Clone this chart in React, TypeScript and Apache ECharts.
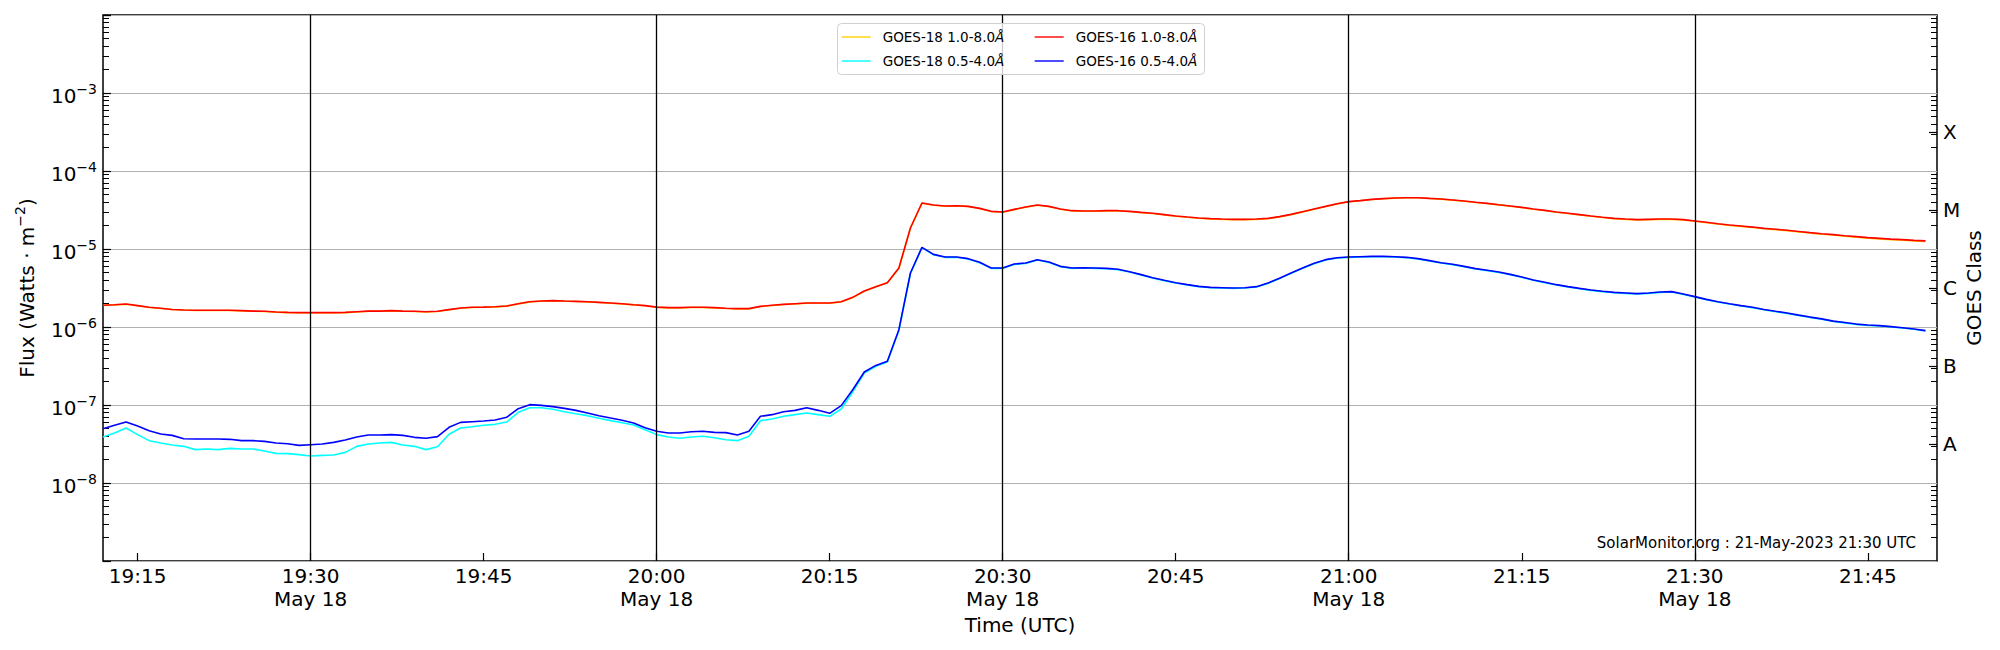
import React, { useEffect, useRef } from "react";
import * as echarts from "echarts";

// ---- data (1-minute cadence, first sample at startTime) ----
const startTime = "19:12";
const xMinTime = "19:12";
const xMaxTime = "21:51";

const goes16Long = [
  1.90e-6, 1.93e-6, 1.97e-6, 1.88e-6, 1.79e-6, 1.74e-6, 1.68e-6, 1.65e-6, 1.64e-6, 1.64e-6,
  1.64e-6, 1.64e-6, 1.62e-6, 1.60e-6, 1.59e-6, 1.56e-6, 1.54e-6, 1.53e-6, 1.53e-6, 1.53e-6,
  1.53e-6, 1.54e-6, 1.57e-6, 1.60e-6, 1.60e-6, 1.62e-6, 1.60e-6, 1.59e-6, 1.57e-6, 1.59e-6,
  1.67e-6, 1.75e-6, 1.79e-6, 1.80e-6, 1.82e-6, 1.86e-6, 1.99e-6, 2.11e-6, 2.15e-6, 2.18e-6,
  2.15e-6, 2.13e-6, 2.11e-6, 2.07e-6, 2.03e-6, 1.99e-6, 1.93e-6, 1.88e-6, 1.80e-6, 1.77e-6,
  1.77e-6, 1.79e-6, 1.79e-6, 1.77e-6, 1.74e-6, 1.72e-6, 1.72e-6, 1.84e-6, 1.90e-6, 1.95e-6,
  1.99e-6, 2.03e-6, 2.03e-6, 2.03e-6, 2.11e-6, 2.40e-6, 2.89e-6, 3.29e-6, 3.70e-6, 5.71e-6,
  1.86e-5, 3.89e-5, 3.66e-5, 3.56e-5, 3.59e-5, 3.52e-5, 3.32e-5, 3.04e-5, 2.98e-5, 3.22e-5,
  3.46e-5, 3.66e-5, 3.52e-5, 3.26e-5, 3.10e-5, 3.07e-5, 3.07e-5, 3.10e-5, 3.10e-5, 3.04e-5,
  2.95e-5, 2.87e-5, 2.76e-5, 2.65e-5, 2.57e-5, 2.50e-5, 2.45e-5, 2.42e-5, 2.40e-5, 2.40e-5,
  2.42e-5, 2.47e-5, 2.60e-5, 2.78e-5, 3.01e-5, 3.26e-5, 3.52e-5, 3.81e-5, 4.05e-5, 4.17e-5,
  4.33e-5, 4.42e-5, 4.51e-5, 4.55e-5, 4.55e-5, 4.46e-5, 4.38e-5, 4.25e-5, 4.12e-5, 3.97e-5,
  3.85e-5, 3.70e-5, 3.56e-5, 3.42e-5, 3.26e-5, 3.13e-5, 2.98e-5, 2.87e-5, 2.76e-5, 2.65e-5,
  2.55e-5, 2.47e-5, 2.42e-5, 2.38e-5, 2.40e-5, 2.42e-5, 2.42e-5, 2.38e-5, 2.29e-5, 2.20e-5,
  2.11e-5, 2.03e-5, 1.97e-5, 1.91e-5, 1.84e-5, 1.79e-5, 1.74e-5, 1.68e-5, 1.62e-5, 1.57e-5,
  1.53e-5, 1.48e-5, 1.44e-5, 1.40e-5, 1.37e-5, 1.34e-5, 1.32e-5, 1.29e-5, 1.27e-5,
];

const goes18Long = [
  1.89e-6, 1.92e-6, 1.96e-6, 1.87e-6, 1.78e-6, 1.73e-6, 1.68e-6, 1.65e-6, 1.63e-6, 1.63e-6,
  1.63e-6, 1.63e-6, 1.61e-6, 1.59e-6, 1.58e-6, 1.55e-6, 1.53e-6, 1.52e-6, 1.52e-6, 1.52e-6,
  1.52e-6, 1.53e-6, 1.56e-6, 1.59e-6, 1.59e-6, 1.61e-6, 1.59e-6, 1.58e-6, 1.56e-6, 1.58e-6,
  1.66e-6, 1.74e-6, 1.78e-6, 1.79e-6, 1.81e-6, 1.85e-6, 1.98e-6, 2.10e-6, 2.14e-6, 2.17e-6,
  2.14e-6, 2.12e-6, 2.10e-6, 2.06e-6, 2.02e-6, 1.98e-6, 1.92e-6, 1.87e-6, 1.79e-6, 1.76e-6,
  1.76e-6, 1.78e-6, 1.78e-6, 1.76e-6, 1.73e-6, 1.71e-6, 1.71e-6, 1.83e-6, 1.89e-6, 1.94e-6,
  1.98e-6, 2.02e-6, 2.02e-6, 2.02e-6, 2.10e-6, 2.38e-6, 2.87e-6, 3.27e-6, 3.68e-6, 5.68e-6,
  1.85e-5, 3.87e-5, 3.64e-5, 3.54e-5, 3.57e-5, 3.50e-5, 3.30e-5, 3.02e-5, 2.96e-5, 3.20e-5,
  3.44e-5, 3.64e-5, 3.50e-5, 3.24e-5, 3.08e-5, 3.05e-5, 3.05e-5, 3.08e-5, 3.08e-5, 3.02e-5,
  2.93e-5, 2.85e-5, 2.74e-5, 2.63e-5, 2.55e-5, 2.48e-5, 2.43e-5, 2.40e-5, 2.38e-5, 2.38e-5,
  2.40e-5, 2.45e-5, 2.58e-5, 2.76e-5, 2.99e-5, 3.24e-5, 3.50e-5, 3.79e-5, 4.03e-5, 4.15e-5,
  4.31e-5, 4.40e-5, 4.49e-5, 4.53e-5, 4.53e-5, 4.44e-5, 4.36e-5, 4.23e-5, 4.10e-5, 3.95e-5,
  3.83e-5, 3.68e-5, 3.54e-5, 3.40e-5, 3.24e-5, 3.11e-5, 2.96e-5, 2.85e-5, 2.74e-5, 2.63e-5,
  2.53e-5, 2.45e-5, 2.40e-5, 2.36e-5, 2.38e-5, 2.40e-5, 2.40e-5, 2.36e-5, 2.27e-5, 2.18e-5,
  2.09e-5, 2.01e-5, 1.95e-5, 1.89e-5, 1.82e-5, 1.77e-5, 1.72e-5, 1.66e-5, 1.60e-5, 1.55e-5,
  1.51e-5, 1.46e-5, 1.42e-5, 1.38e-5, 1.35e-5, 1.32e-5, 1.30e-5, 1.27e-5, 1.25e-5,
];

const goes16Short = [
  4.97e-8, 5.49e-8, 6.05e-8, 5.38e-8, 4.69e-8, 4.25e-8, 4.08e-8, 3.70e-8, 3.66e-8, 3.66e-8,
  3.66e-8, 3.63e-8, 3.49e-8, 3.49e-8, 3.42e-8, 3.26e-8, 3.19e-8, 3.04e-8, 3.10e-8, 3.16e-8,
  3.32e-8, 3.56e-8, 3.89e-8, 4.12e-8, 4.12e-8, 4.17e-8, 4.08e-8, 3.85e-8, 3.74e-8, 3.93e-8,
  5.17e-8, 5.99e-8, 6.11e-8, 6.23e-8, 6.42e-8, 6.95e-8, 8.97e-8, 1.01e-7, 9.90e-8, 9.52e-8,
  9.06e-8, 8.54e-8, 7.90e-8, 7.30e-8, 6.81e-8, 6.36e-8, 5.88e-8, 5.12e-8, 4.60e-8, 4.38e-8,
  4.38e-8, 4.55e-8, 4.60e-8, 4.46e-8, 4.42e-8, 4.12e-8, 4.60e-8, 7.16e-8, 7.52e-8, 8.21e-8,
  8.54e-8, 9.24e-8, 8.54e-8, 7.82e-8, 9.81e-8, 1.57e-7, 2.65e-7, 3.22e-7, 3.63e-7, 9.24e-7,
  4.92e-6, 1.05e-5, 8.54e-6, 7.90e-6, 7.90e-6, 7.52e-6, 6.75e-6, 5.71e-6, 5.71e-6, 6.42e-6,
  6.61e-6, 7.30e-6, 6.81e-6, 5.99e-6, 5.71e-6, 5.76e-6, 5.71e-6, 5.65e-6, 5.49e-6, 5.12e-6,
  4.69e-6, 4.29e-6, 3.97e-6, 3.70e-6, 3.49e-6, 3.32e-6, 3.22e-6, 3.19e-6, 3.16e-6, 3.19e-6,
  3.29e-6, 3.66e-6, 4.21e-6, 4.92e-6, 5.71e-6, 6.55e-6, 7.30e-6, 7.74e-6, 7.90e-6, 7.97e-6,
  8.05e-6, 8.05e-6, 7.97e-6, 7.82e-6, 7.52e-6, 7.09e-6, 6.68e-6, 6.36e-6, 5.99e-6, 5.60e-6,
  5.33e-6, 5.07e-6, 4.73e-6, 4.38e-6, 4.01e-6, 3.74e-6, 3.49e-6, 3.29e-6, 3.13e-6, 2.98e-6,
  2.87e-6, 2.78e-6, 2.73e-6, 2.68e-6, 2.73e-6, 2.81e-6, 2.84e-6, 2.65e-6, 2.45e-6, 2.26e-6,
  2.11e-6, 1.99e-6, 1.88e-6, 1.79e-6, 1.68e-6, 1.59e-6, 1.51e-6, 1.42e-6, 1.34e-6, 1.27e-6,
  1.19e-6, 1.14e-6, 1.09e-6, 1.06e-6, 1.04e-6, 1.01e-6, 9.80e-7, 9.43e-7, 8.98e-7,
];

const goes18Short = [
  3.89e-8, 4.38e-8, 5.07e-8, 4.17e-8, 3.49e-8, 3.26e-8, 3.07e-8, 2.95e-8, 2.68e-8, 2.73e-8,
  2.68e-8, 2.78e-8, 2.73e-8, 2.73e-8, 2.57e-8, 2.40e-8, 2.38e-8, 2.31e-8, 2.22e-8, 2.26e-8,
  2.29e-8, 2.47e-8, 2.95e-8, 3.16e-8, 3.26e-8, 3.32e-8, 3.07e-8, 2.95e-8, 2.68e-8, 2.92e-8,
  4.21e-8, 5.07e-8, 5.27e-8, 5.49e-8, 5.65e-8, 6.05e-8, 8.05e-8, 9.24e-8, 9.24e-8, 8.80e-8,
  8.21e-8, 7.74e-8, 7.30e-8, 6.75e-8, 6.30e-8, 5.93e-8, 5.54e-8, 4.83e-8, 4.17e-8, 3.89e-8,
  3.74e-8, 3.89e-8, 3.97e-8, 3.81e-8, 3.59e-8, 3.49e-8, 3.97e-8, 6.30e-8, 6.61e-8, 7.16e-8,
  7.52e-8, 7.90e-8, 7.52e-8, 7.16e-8, 8.89e-8, 1.47e-7, 2.57e-7, 3.13e-7, 3.56e-7, 9.00e-7,
  4.85e-6, 1.04e-5, 8.45e-6, 7.82e-6, 7.82e-6, 7.44e-6, 6.68e-6, 5.65e-6, 5.65e-6, 6.35e-6,
  6.54e-6, 7.22e-6, 6.74e-6, 5.93e-6, 5.65e-6, 5.70e-6, 5.65e-6, 5.59e-6, 5.43e-6, 5.07e-6,
  4.64e-6, 4.25e-6, 3.93e-6, 3.66e-6, 3.45e-6, 3.29e-6, 3.19e-6, 3.16e-6, 3.13e-6, 3.16e-6,
  3.26e-6, 3.62e-6, 4.17e-6, 4.87e-6, 5.65e-6, 6.48e-6, 7.22e-6, 7.66e-6, 7.82e-6, 7.89e-6,
  7.97e-6, 7.97e-6, 7.89e-6, 7.74e-6, 7.44e-6, 7.02e-6, 6.61e-6, 6.30e-6, 5.93e-6, 5.54e-6,
  5.28e-6, 5.02e-6, 4.68e-6, 4.34e-6, 3.97e-6, 3.70e-6, 3.45e-6, 3.26e-6, 3.10e-6, 2.95e-6,
  2.84e-6, 2.75e-6, 2.70e-6, 2.65e-6, 2.70e-6, 2.78e-6, 2.81e-6, 2.62e-6, 2.43e-6, 2.24e-6,
  2.09e-6, 1.97e-6, 1.86e-6, 1.77e-6, 1.66e-6, 1.57e-6, 1.49e-6, 1.41e-6, 1.33e-6, 1.26e-6,
  1.18e-6, 1.13e-6, 1.08e-6, 1.05e-6, 1.03e-6, 1.00e-6, 9.70e-7, 9.34e-7, 8.89e-7,
];

const xTickLabels = ["19:15", "19:30", "19:45", "20:00", "20:15", "20:30", "20:45", "21:00", "21:15", "21:30", "21:45"];
const halfHourLines = ["19:30", "20:00", "20:30", "21:00", "21:30"];
const dateLabel = "May 18";

const yMin = 1e-9;
const yMax = 1e-2;
const yLabelExps = [-8, -7, -6, -5, -4, -3];

const goesClasses = ["A", "B", "C", "M", "X"];
const goesClassExps = [-7.5, -6.5, -5.5, -4.5, -3.5];

const watermark = "SolarMonitor.org : 21-May-2023 21:30 UTC";

const FONT = "DejaVu Sans";

function toMin(s: string) {
  const [h, m] = s.split(":").map(Number);
  return h * 60 + m;
}
function fmtMin(v: number) {
  const h = Math.floor(v / 60);
  const m = Math.round(v - h * 60);
  return `${h}:${String(m).padStart(2, "0")}`;
}

export default function App() {
  const ref = useRef<HTMLDivElement>(null);
  useEffect(() => {
    if (!ref.current) return;
    const chart = echarts.init(ref.current, null, { renderer: "svg" });
    const t0 = toMin(startTime);
    const pair = (arr: number[]) => arr.map((v, i) => [t0 + i, v]);
    const xTicks = xTickLabels.map(toMin);
    const halfMins = halfHourLines.map(toMin);

    const minorExps: number[] = [];
    for (let n = Math.log10(yMin); n < Math.log10(yMax); n++) {
      for (let k = 2; k <= 9; k++) minorExps.push(n + Math.log10(k));
    }

    const tickColor = "#000";
    const minorAxis = (pos: "left" | "right") => ({
      type: "value",
      min: Math.log10(yMin),
      max: Math.log10(yMax),
      position: pos,
      axisLine: { show: false },
      splitLine: { show: false },
      axisLabel: { show: false },
      axisTick: {
        show: true,
        inside: true,
        length: 6,
        customValues: minorExps,
        lineStyle: { color: tickColor, width: 1 },
      },
    });

    const lineSeries = (name: string, arr: number[], color: string, extra: any = {}) => ({
      name,
      type: "line",
      data: pair(arr),
      symbol: "none",
      showSymbol: false,
      lineStyle: { color, width: 1.6 },
      itemStyle: { color },
      xAxisIndex: 0,
      yAxisIndex: 0,
      ...extra,
    });

    const legendBase = {
      orient: "vertical",
      top: 30,
      itemWidth: 29,
      itemHeight: 14,
      itemGap: 10,
      padding: 0,
      z: 60,
      itemStyle: { opacity: 0 },
      lineStyle: { width: 1.4 },
      formatter: (name: string) => `${name}{i|Å}`,
      textStyle: {
        fontFamily: FONT,
        fontSize: 13.5,
        color: "#000",
        padding: [0, 0, 0, 7],
        rich: { i: { fontFamily: FONT, fontSize: 13.5, fontStyle: "italic", color: "#000" } },
      },
    };

    const option: any = {
      animation: false,
      backgroundColor: "#fff",
      textStyle: { fontFamily: FONT },
      grid: {
        left: 103,
        right: 63,
        top: 15,
        bottom: 89,
        show: true,
        borderColor: "#000",
        borderWidth: 1.5,
        backgroundColor: "transparent",
        containLabel: false,
      },
      legend: [
        { ...legendBase, left: 841, data: ["GOES-18 1.0-8.0", "GOES-18 0.5-4.0"] },
        { ...legendBase, left: 1034, data: ["GOES-16 1.0-8.0", "GOES-16 0.5-4.0"] },
      ],
      graphic: [
        {
          type: "rect",
          left: 837,
          top: 23,
          z: 50,
          shape: { width: 367, height: 51, r: 4 },
          style: { fill: "rgba(255,255,255,0.8)", stroke: "#d0d0d0", lineWidth: 1 },
        },
        {
          type: "text",
          right: 84,
          top: 535,
          z: 50,
          style: { text: watermark, fontFamily: FONT, fontSize: 15, fill: "#000" },
        },
      ],
      xAxis: {
        type: "value",
        min: toMin(xMinTime),
        max: toMin(xMaxTime),
        axisLine: { show: false },
        splitLine: { show: false },
        axisTick: {
          show: true,
          inside: true,
          length: 8,
          customValues: xTicks,
          lineStyle: { color: tickColor, width: 1.2 },
        },
        axisLabel: {
          customValues: xTicks,
          formatter: (v: number) => {
            const s = fmtMin(v);
            return halfHourLines.includes(s) ? `${s}\n${dateLabel}` : s;
          },
          fontFamily: FONT,
          fontSize: 20,
          lineHeight: 23,
          color: "#000",
          margin: 3,
        },
        name: "Time (UTC)",
        nameLocation: "middle",
        nameGap: 54,
        nameTextStyle: { fontFamily: FONT, fontSize: 20, color: "#000" },
      },
      yAxis: [
        {
          type: "log",
          logBase: 10,
          min: yMin,
          max: yMax,
          interval: 1,
          position: "left",
          axisLine: { show: false },
          splitLine: { show: true, lineStyle: { color: "#b0b0b0", width: 1.2 } },
          axisTick: { show: true, inside: true, length: 8, lineStyle: { color: tickColor, width: 1.2 } },
          axisLabel: {
            formatter: (v: number) => {
              const e = Math.round(Math.log10(v));
              if (!yLabelExps.includes(e)) return "";
              return `{m|10}{s|−${-e}}`;
            },
            margin: 6,
            color: "#000",
            rich: {
              m: { fontFamily: FONT, fontSize: 20, color: "#000", padding: [5, 0, 0, 0] },
              s: { fontFamily: FONT, fontSize: 14, color: "#000", padding: [0, 0, 8, 0] },
            },
          },
          name: "{n|Flux (Watts · m}{s|−2}{n|)}",
          nameLocation: "middle",
          nameRotate: 90,
          nameGap: 66,
          nameTextStyle: {
            fontFamily: FONT,
            fontSize: 20,
            color: "#000",
            rich: {
              n: { fontFamily: FONT, fontSize: 20, color: "#000", padding: [6, 0, 0, 0] },
              s: { fontFamily: FONT, fontSize: 14, color: "#000", padding: [0, 0, 8, 0] },
            },
          },
        },
        minorAxis("left"),
        minorAxis("right"),
        {
          type: "value",
          min: Math.log10(yMin),
          max: Math.log10(yMax),
          position: "right",
          axisLine: { show: false },
          splitLine: { show: false },
          axisTick: {
            show: true,
            inside: true,
            length: 8,
            customValues: goesClassExps,
            lineStyle: { color: tickColor, width: 1.2 },
          },
          axisLabel: {
            customValues: goesClassExps,
            formatter: (v: number) => {
              const i = goesClassExps.findIndex((c) => Math.abs(c - v) < 1e-6);
              return i >= 0 ? goesClasses[i] : "";
            },
            fontFamily: FONT,
            fontSize: 20,
            color: "#000",
            margin: 6,
          },
          name: "GOES Class",
          nameLocation: "middle",
          nameRotate: 90,
          nameGap: 27,
          nameMoveOverlap: false,
          nameTextStyle: { fontFamily: FONT, fontSize: 20, color: "#000" },
        },
      ],
      series: [
        lineSeries("GOES-18 1.0-8.0", goes18Long, "#ffd000", {
          markLine: {
            silent: true,
            symbol: ["none", "none"],
            label: { show: false },
            lineStyle: { color: "#000", width: 1.3, type: "solid" },
            emphasis: { disabled: true },
            data: halfMins.map((m) => ({ xAxis: m })),
          },
        }),
        lineSeries("GOES-18 0.5-4.0", goes18Short, "#00ffff"),
        lineSeries("GOES-16 1.0-8.0", goes16Long, "#ff0000"),
        lineSeries("GOES-16 0.5-4.0", goes16Short, "#0000ff"),
      ],
    };
    chart.setOption(option);
    return () => chart.dispose();
  }, []);
  return <div ref={ref} style={{ position: "absolute", left: 0, top: 0, width: 2000, height: 650 }} />;
}
